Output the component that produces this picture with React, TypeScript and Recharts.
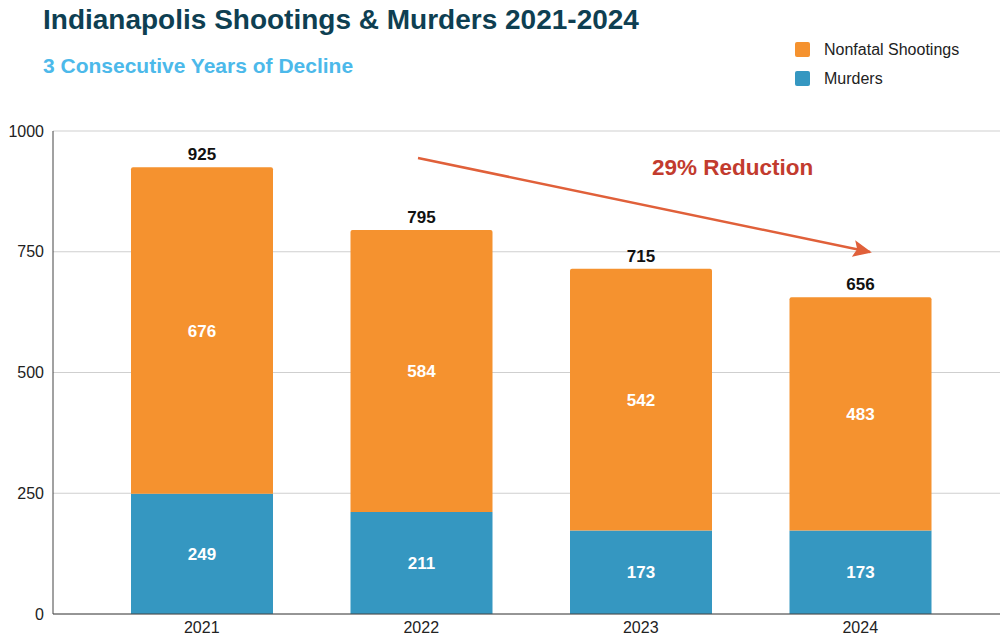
import React from "react";
import { Bar, BarChart, CartesianGrid, LabelList, XAxis, YAxis } from "recharts";

const years = ["2021", "2022", "2023", "2024"];
const murders = [249, 211, 173, 173];
const nonfatal = [676, 584, 542, 483];
const yTicks = [0, 250, 500, 750, 1000];

const ORANGE = "#F5922F";
const BLUE = "#3597C1";
const FONT = "'Liberation Sans', Arial, sans-serif";

const data = years.map((year, i) => ({
  year,
  murders: murders[i],
  nonfatal: nonfatal[i],
  total: murders[i] + nonfatal[i],
}));

const legendItems = [
  { label: "Nonfatal Shootings", color: ORANGE },
  { label: "Murders", color: BLUE },
];

function LegendBox() {
  return (
    <div
      style={{
        position: "absolute",
        left: 795,
        top: 35,
        fontFamily: FONT,
        fontSize: 16,
        color: "#222",
      }}
    >
      {legendItems.map((it) => (
        <div key={it.label} style={{ display: "flex", alignItems: "center", height: 29 }}>
          <span
            style={{
              width: 15,
              height: 15,
              background: it.color,
              borderRadius: 2,
              marginRight: 14,
            }}
          />
          {it.label}
        </div>
      ))}
    </div>
  );
}

export default function App() {
  const tick = { fontSize: 16, fontFamily: FONT, fill: "#222" };
  const labelStyle = { fontSize: 17, fontWeight: 700, fontFamily: FONT };
  return (
    <div
      style={{
        position: "absolute",
        left: 0,
        top: 0,
        width: 1000,
        height: 642,
        background: "#fff",
        fontFamily: FONT,
      }}
    >
      <div
        style={{
          position: "absolute",
          left: 43,
          top: 4,
          fontSize: 28,
          fontWeight: 700,
          color: "#0E3F52",
          whiteSpace: "nowrap",
        }}
      >
        Indianapolis Shootings &amp; Murders 2021-2024
      </div>
      <div
        style={{
          position: "absolute",
          left: 43,
          top: 54,
          fontSize: 21,
          fontWeight: 700,
          color: "#4CB9EA",
          whiteSpace: "nowrap",
        }}
      >
        3 Consecutive Years of Decline
      </div>
      <LegendBox />

      <BarChart
        width={1000}
        height={642}
        data={data}
        margin={{ top: 131, right: 0, bottom: 0, left: 0 }}
        barSize={142}
      >
        <CartesianGrid vertical={false} stroke="#cfcfcf" />
        <XAxis
          dataKey="year"
          height={28}
          padding={{ left: 39, right: 30 }}
          tick={tick}
          tickLine={false}
          tickSize={0}
          tickMargin={8}
          axisLine={{ stroke: "#444" }}
        />
        <YAxis
          width={53}
          domain={[0, 1000]}
          ticks={yTicks}
          tick={tick}
          tickLine={false}
          tickSize={0}
          tickMargin={9}
          axisLine={{ stroke: "#444" }}
        />
        <Bar dataKey="murders" stackId="a" fill={BLUE} isAnimationActive={false}>
          <LabelList dataKey="murders" position="center" fill="#fff" style={labelStyle} />
        </Bar>
        <Bar
          dataKey="nonfatal"
          stackId="a"
          fill={ORANGE}
          radius={[2, 2, 0, 0]}
          isAnimationActive={false}
        >
          <LabelList dataKey="nonfatal" position="center" fill="#fff" style={labelStyle} />
          <LabelList dataKey="total" position="top" offset={7} fill="#111" style={labelStyle} />
        </Bar>
      </BarChart>

      <svg
        width={1000}
        height={642}
        style={{ position: "absolute", left: 0, top: 0, pointerEvents: "none" }}
      >
        <defs>
          <marker
            id="arrowHead"
            viewBox="0 0 10 10"
            refX="9"
            refY="5"
            markerWidth="7.5"
            markerHeight="7.5"
            markerUnits="strokeWidth"
            orient="auto"
          >
            <path d="M0,0.5 L10,5 L0,9.5 L2,5 Z" fill="#E0603A" />
          </marker>
        </defs>
        <line
          x1={418}
          y1={158}
          x2={870}
          y2={252}
          stroke="#E0603A"
          strokeWidth={2.5}
          markerEnd="url(#arrowHead)"
        />
        <text x={652} y={175} fill="#C23B2E" style={{ fontSize: 22.5, fontWeight: 700, fontFamily: FONT }}>
          29% Reduction
        </text>
      </svg>
    </div>
  );
}
